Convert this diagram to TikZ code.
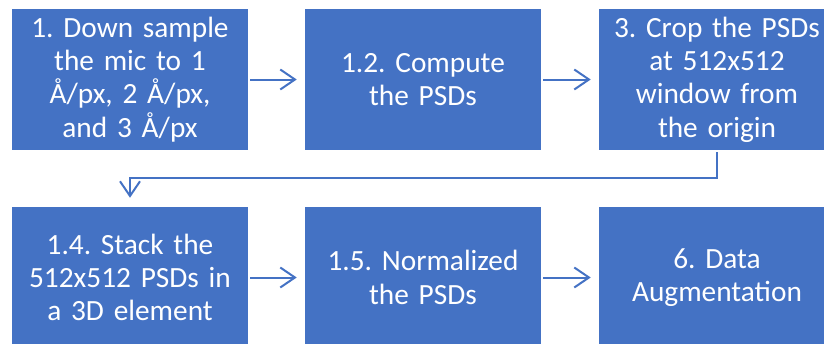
\documentclass[tikz,border=0pt]{standalone}
\usepackage{fontspec}
\setmainfont{Carlito}
\usetikzlibrary{arrows.meta}
\definecolor{ofblue}{HTML}{4472C4}
\frenchspacing
\begin{document}
\begin{tikzpicture}[x=0.75pt,y=-0.75pt,
  stepbox/.style={fill=ofblue, draw=none, text=white, minimum width=177pt,
    minimum height=105.75pt, text width=175pt, align=center, inner sep=0pt,
    font=\fontsize{22}{25}\selectfont\frenchspacing},
  conn/.style={draw=ofblue, line width=1.5pt,
    -{Straight Barb[length=11pt,width=15pt]}}]
\useasboundingbox (0,0) rectangle (824,343);
\node[stepbox] (b1) at (130,79.5) {1. Down sample\\the mic to 1\\Å/px, 2 Å/px,\\and 3 Å/px};
\node[stepbox] (b2) at (423,79.5) {1.2. Compute\\the PSDs};
\node[stepbox] (b3) at (717,79.5) {3. Crop the PSDs\\at 512x512\\window from\\the origin};
\node[stepbox] (b4) at (130,277.5) {1.4. Stack the\\512x512 PSDs in\\a 3D element};
\node[stepbox] (b5) at (423,277.5) {1.5. Normalized\\the PSDs};
\node[stepbox] (b6) at (717,277.5) {6. Data\\Augmentation};
\draw[conn] ([xshift=1.5pt]b1.east) -- ([xshift=-6pt]b2.west);
\draw[conn] ([xshift=1.5pt]b2.east) -- ([xshift=-6pt]b3.west);
\draw[conn] ([xshift=1.5pt]b4.east) -- ([xshift=-6pt]b5.west);
\draw[conn] ([xshift=1.5pt]b5.east) -- ([xshift=-6pt]b6.west);
\draw[conn] ([yshift=-1.5pt]b3.south) -- ++(0,26) -| ([yshift=6.75pt]b4.north);
\end{tikzpicture}
\end{document}
